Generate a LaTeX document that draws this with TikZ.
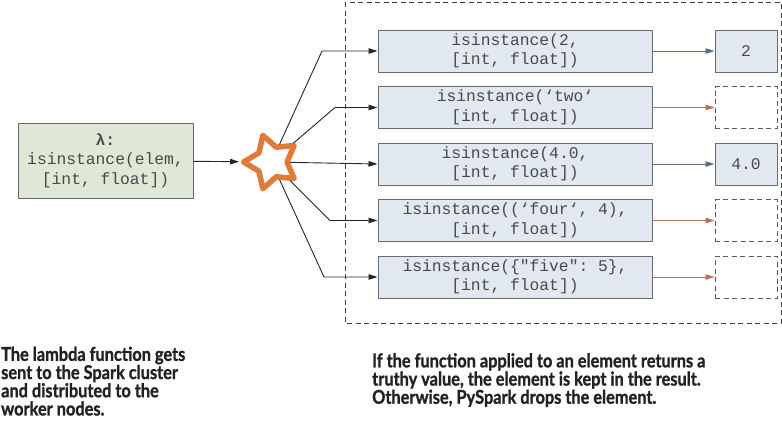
\documentclass[tikz,border=0pt]{standalone}
\usepackage{fontspec}
\setmainfont[FakeStretch=0.86, BoldFeatures={FakeBold=1.2}]{Lato}
\setmonofont{Liberation Mono}
\usetikzlibrary{arrows.meta, positioning, shapes.geometric}

\definecolor{lambdagreen}{HTML}{DFE7D6}
\definecolor{callblue}{HTML}{E1E8F0}
\definecolor{edgegray}{HTML}{6A6A6A}
\definecolor{codegray}{HTML}{4A4A4A}
\definecolor{sparkorange}{HTML}{E07B39}
\definecolor{keptblue}{HTML}{5C6F88}
\definecolor{droppedred}{HTML}{B8705F}
\definecolor{notegray}{HTML}{222222}

\begin{document}
\begin{tikzpicture}[x=1pt, y=-1pt]

	\tikzset{
		codebox/.style={
			draw=edgegray, line width=1pt,
			fill=#1,
			align=center,
			inner sep=0pt,
			text=codegray,
			font=\ttfamily\fontsize{16.3}{19.5}\selectfont
		},
		codebox/.default=callblue,
		callbox/.style={codebox, minimum width=274pt, minimum height=42pt},
		keptbox/.style={codebox, minimum width=62pt, minimum height=42pt},
		dropbox/.style={draw=black!65, line width=1pt, dash pattern=on 5pt off 3.5pt,
			minimum width=62pt, minimum height=42pt, inner sep=0pt},
		flow/.style={-{Triangle[length=9pt, width=5.5pt]}, line width=0.9pt, draw=black!85},
		kept/.style={flow, draw=keptblue},
		dropped/.style={flow, draw=droppedred},
		note/.style={align=left, inner sep=0pt, anchor=north west, text=notegray,
			font=\bfseries\fontsize{19}{18.2}\selectfont}
	}

	\useasboundingbox (0,0) rectangle (782,421);

	% cluster frame
	\draw[draw=black!75, line width=0.9pt, dash pattern=on 5pt off 3.5pt] (345,2) rectangle (781,323);

	% lambda and spark
	\node[codebox=lambdagreen, minimum width=175pt, minimum height=75pt] (lam) at (105.5,160.5)
		{\textbf{λ:}\\isinstance(elem,\\{}[int, float])};
	\node[star, star points=5, star point ratio=1.8, shape border rotate=90,
		minimum size=56pt, inner sep=0pt, outer sep=2.5pt,
		draw=sparkorange, line width=5.5pt, line join=round, fill=white] (spark) at (271.5,162) {};

	% worker calls
	\node[callbox] (c1) at (515,51)    {isinstance(2,\\{}[int, float])};
	\node[callbox] (c2) at (515,107.5) {isinstance(‘two‘\\{}[int, float])};
	\node[callbox] (c3) at (515,164)   {isinstance(4.0,\\{}[int, float])};
	\node[callbox] (c4) at (515,220.5) {isinstance((‘four‘, 4),\\{}[int, float])};
	\node[callbox] (c5) at (515,277)   {isinstance(\{"five": 5\},\\{}[int, float])};

	% results
	\node[keptbox] (r1) at (746,51)    {2};
	\node[dropbox] (r2) at (746,107.5) {};
	\node[keptbox] (r3) at (746,164)   {4.0};
	\node[dropbox] (r4) at (746,220.5) {};
	\node[dropbox] (r5) at (746,277)   {};

	\coordinate (k1) at (322,51);
	\coordinate (k2) at (335,107.5);
	\coordinate (k4) at (330,220.5);
	\coordinate (k5) at (324,277);

	% connectors
	\draw[flow] (lam) -- (spark);
	\foreach \i in {1,2,4,5}
		\draw[flow] (spark) -- (k\i) -- (c\i);
	\draw[flow] (spark) -- (c3.west);

	\draw[kept] (c1) -- (r1);
	\draw[kept] (c3) -- (r3);
	\foreach \i in {2,4,5}
		\draw[dropped] (c\i) -- (r\i);

	% captions
	\node[note] (leftnote) at (1,346.5)
		{The lambda function gets\\sent to the Spark cluster\\and distributed to the\\worker nodes.};
	\node[note] (rightnote) at (372,353)
		{If the function applied to an element returns a\\truthy value, the element is kept in the result.\\Otherwise, PySpark drops the element.};

\end{tikzpicture}
\end{document}
